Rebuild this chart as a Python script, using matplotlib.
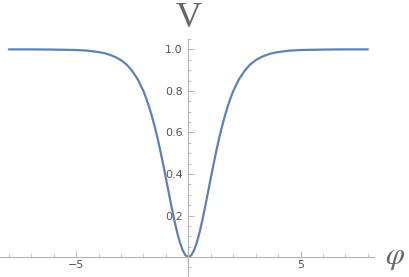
import matplotlib
matplotlib.use('Agg')
import matplotlib.pyplot as plt
from matplotlib.ticker import MultipleLocator

# values
phi = [-8.0, -7.0, -6.0, -5.0, -4.5, -4.0, -3.75, -3.5, -3.25, -3.0, -2.75, -2.5, -2.25,
       -2.0, -1.875, -1.75, -1.625, -1.5, -1.375, -1.25, -1.125, -1.0, -0.875,
       -0.75, -0.625, -0.5, -0.375, -0.25, -0.125, 0.0,
       0.125, 0.25, 0.375, 0.5, 0.625, 0.75, 0.875, 1.0, 1.125, 1.25, 1.375,
       1.5, 1.625, 1.75, 1.875, 2.0,
       2.25, 2.5, 2.75, 3.0, 3.25, 3.5, 3.75, 4.0, 4.5, 5.0, 6.0, 7.0, 8.0]
V = [1.0, 1.0, 0.999, 0.997, 0.994, 0.987, 0.982, 0.974, 0.963, 0.948, 0.927, 0.896, 0.855,
     0.799, 0.764, 0.724, 0.679, 0.629, 0.574, 0.513, 0.448, 0.381, 0.311,
     0.243, 0.178, 0.119, 0.0695, 0.032, 0.0081, 0.0,
     0.0081, 0.032, 0.0695, 0.119, 0.178, 0.243, 0.311, 0.381, 0.448, 0.513, 0.574,
     0.629, 0.679, 0.724, 0.764, 0.799,
     0.855, 0.896, 0.927, 0.948, 0.963, 0.974, 0.982, 0.987, 0.994, 0.997, 0.999, 1.0, 1.0]
x_ticks = [-5, 5]
y_ticks = [0.2, 0.4, 0.6, 0.8, 1.0]

axis_grey = '#b4b4b4'
text_grey = '#555555'

fig = plt.figure(figsize=(4.09, 2.77), dpi=100)
ax = fig.add_axes([0, 0, 374 / 409, 238 / 277])

ax.plot(phi, V, color='#5e81b5', lw=1.6, solid_capstyle='round', solid_joinstyle='round')

ax.set_xlim(-8.39, 8.27)
ax.set_ylim(-0.096, 1.05)

for s in ['top', 'right']:
    ax.spines[s].set_visible(False)
ax.spines['left'].set_position(('data', 0))
ax.spines['bottom'].set_position(('data', 0))
for s in ['left', 'bottom']:
    ax.spines[s].set_color(axis_grey)
    ax.spines[s].set_linewidth(0.8)

ax.set_xticks(x_ticks)
ax.set_xticklabels(['\u22125', '5'])
ax.set_yticks(y_ticks)
ax.set_yticklabels(['0.2', '0.4', '0.6', '0.8', '1.0'])
ax.xaxis.set_minor_locator(MultipleLocator(1))
ax.yaxis.set_minor_locator(MultipleLocator(0.05))

ax.tick_params(axis='x', which='both', direction='in', color=axis_grey, labelcolor=text_grey,
               labelsize=8, pad=2)
ax.tick_params(axis='y', which='both', direction='in', color=axis_grey, labelcolor=text_grey,
               labelsize=8, pad=4)
ax.tick_params(which='major', length=4, width=0.7)
ax.tick_params(which='minor', length=2.5, width=0.6)

fig.text(189 / 409, 1 - 27 / 277, 'V', family='Liberation Serif', fontsize=26,
         color='#666666', ha='center', va='baseline')
fig.text(395 / 409, 1 - 258 / 277, r'$\varphi$', fontsize=22, color='#666666',
         ha='center', va='center', math_fontfamily='stix')

fig.savefig('out.png', dpi=100)
